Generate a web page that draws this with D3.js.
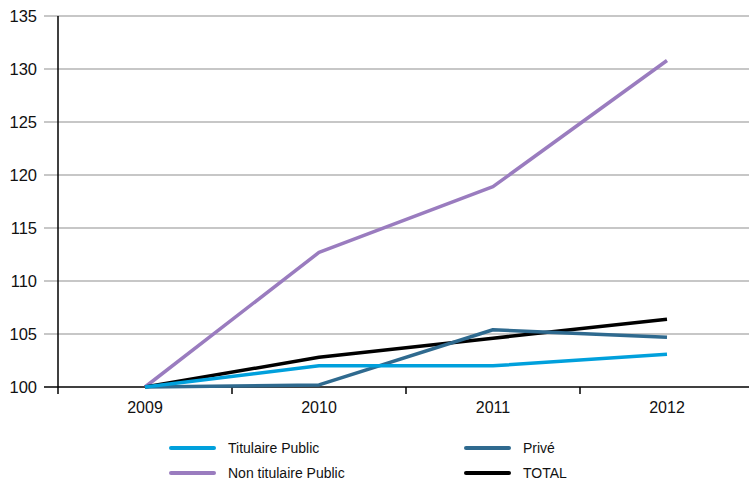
<!DOCTYPE html>
<html>
<head>
<meta charset="utf-8">
<script src="https://cdn.jsdelivr.net/npm/d3@7"></script>
<style>
  body { margin: 0; background: #fff; }
  text { font-family: "Liberation Sans Narrow", "Liberation Sans", Arial, sans-serif; fill: #111; }
</style>
</head>
<body>
<div id="wrapper"></div>
<script>
// data
const years = ["2009", "2010", "2011", "2012"];
const titulairePublic = [100, 102.0, 102.0, 103.1];
const nonTitulairePublic = [100, 112.7, 118.9, 130.8];
const prive = [100, 100.2, 105.4, 104.7];
const total = [100, 102.8, 104.6, 106.4];
const yTicks = [100, 105, 110, 115, 120, 125, 130, 135];

const seriesNames = ["Titulaire Public", "Non titulaire Public", "Privé", "TOTAL"];
const seriesColors = ["#00a0dc", "#9a7cbf", "#2f6a8f", "#000000"];

drawChart = () => {
  const dimensions = {
    width: 749,
    height: 480,
    margin: { top: 16, right: -5, bottom: 93, left: 58 }
  };
  dimensions.boundedWidth = dimensions.width - dimensions.margin.left - dimensions.margin.right;
  dimensions.boundedHeight = dimensions.height - dimensions.margin.top - dimensions.margin.bottom;

  const svg = d3.select("#wrapper")
    .append("svg")
    .attr("width", dimensions.width)
    .attr("height", dimensions.height);

  const bounds = svg.append("g")
    .attr("transform", `translate(${dimensions.margin.left},${dimensions.margin.top})`);

  // scales
  const xScale = d3.scaleBand()
    .domain(years)
    .range([0, dimensions.boundedWidth]);

  const yScale = d3.scaleLinear()
    .domain([100, 135])
    .range([dimensions.boundedHeight, 0]);

  // gridlines
  bounds.append("g")
    .selectAll("line")
    .data(yTicks.filter(d => d > 100))
    .join("line")
    .attr("x1", -14)
    .attr("x2", dimensions.boundedWidth)
    .attr("y1", d => yScale(d))
    .attr("y2", d => yScale(d))
    .attr("stroke", "#b4b4b4")
    .attr("stroke-width", 1.5);

  // y labels
  bounds.append("g")
    .selectAll("text")
    .data(yTicks)
    .join("text")
    .attr("x", -21)
    .attr("y", d => yScale(d))
    .attr("dy", "0.35em")
    .attr("text-anchor", "end")
    .style("font-size", "16.5px")
    .text(d => d);

  // y axis line
  bounds.append("line")
    .attr("x1", 0).attr("x2", 0)
    .attr("y1", 0).attr("y2", dimensions.boundedHeight)
    .attr("stroke", "#000")
    .attr("stroke-width", 1.5);

  // x axis
  bounds.append("line")
    .attr("x1", -14).attr("x2", dimensions.boundedWidth)
    .attr("y1", dimensions.boundedHeight).attr("y2", dimensions.boundedHeight)
    .attr("stroke", "#000")
    .attr("stroke-width", 1.5);

  const tickPos = years.map(d => xScale(d)).concat([dimensions.boundedWidth]);
  bounds.append("g")
    .selectAll("line")
    .data(tickPos)
    .join("line")
    .attr("x1", d => d).attr("x2", d => d)
    .attr("y1", dimensions.boundedHeight)
    .attr("y2", dimensions.boundedHeight + 7)
    .attr("stroke", "#000")
    .attr("stroke-width", 1.5);

  bounds.append("g")
    .selectAll("text")
    .data(years)
    .join("text")
    .attr("x", d => xScale(d) + xScale.bandwidth() / 2)
    .attr("y", dimensions.boundedHeight + 26)
    .attr("text-anchor", "middle")
    .style("font-size", "16px")
    .text(d => d);

  // lines
  const allSeries = [titulairePublic, nonTitulairePublic, prive, total];
  const lineGen = d3.line()
    .x((d, i) => xScale(years[i]) + xScale.bandwidth() / 2)
    .y(d => yScale(d));

  // draw order: purple, prive, total, titulaire on top at start
  const order = [1, 3, 2, 0];
  bounds.append("g")
    .selectAll("path")
    .data(order)
    .join("path")
    .attr("d", i => lineGen(allSeries[i]))
    .attr("fill", "none")
    .attr("stroke", i => seriesColors[i])
    .attr("stroke-width", 3.5)
    .attr("stroke-linejoin", "round");

  // legend
  const legendPos = [
    { x: 169, y: 448 },
    { x: 169, y: 473 },
    { x: 464, y: 448 },
    { x: 464, y: 473 }
  ];
  const legend = svg.append("g")
    .selectAll("g")
    .data(seriesNames)
    .join("g")
    .attr("transform", (d, i) => `translate(${legendPos[i].x},${legendPos[i].y})`);

  legend.append("line")
    .attr("x1", 2).attr("x2", 45)
    .attr("stroke", (d, i) => seriesColors[i])
    .attr("stroke-width", 4)
    .attr("stroke-linecap", "round");

  legend.append("text")
    .attr("x", 59)
    .attr("dy", "0.35em")
    .style("font-size", "14px")
    .text(d => d);
}

drawChart();
</script>
</body>
</html>
